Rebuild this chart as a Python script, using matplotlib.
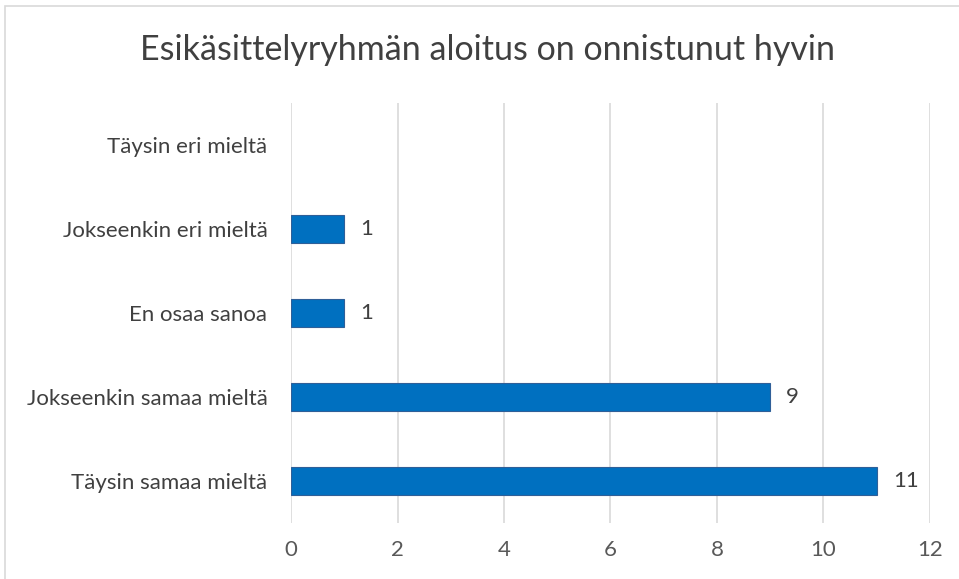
import matplotlib
matplotlib.use('Agg')
import matplotlib.pyplot as plt
from matplotlib.patches import Rectangle

categories = ['Täysin eri mieltä', 'Jokseenkin eri mieltä', 'En osaa sanoa',
              'Jokseenkin samaa mieltä', 'Täysin samaa mieltä']
values = [0, 1, 1, 9, 11]
xticks = [0, 2, 4, 6, 8, 10, 12]
title = 'Esikäsittelyryhmän aloitus on onnistunut hyvin'

plt.rcParams['font.family'] = ['Lato', 'DejaVu Sans']

W, H = 959, 579
fig = plt.figure(figsize=(W / 100, H / 100), dpi=100)
ax = fig.add_axes([291 / W, 1 - 523 / H, (930 - 291) / W, (523 - 103) / H])

# outer chart frame (right/bottom edges fall outside the crop)
fig.patches.append(Rectangle((5 / W, -0.05), 1.1, 1 - 6 / H + 0.05,
                             transform=fig.transFigure, fill=False,
                             edgecolor='#d9d9d9', linewidth=1.2))

pos = list(range(len(categories)))[::-1]
lw = [0.8 if v > 0 else 0 for v in values]
ax.barh(pos, values, height=0.34, color='#0070c0', edgecolor='#2f5f98',
        linewidth=lw, zorder=3)
for p, v in zip(pos, values):
    if v > 0:
        ax.text(v + 0.3, p, str(v), va='center', ha='left', fontsize=16,
                color='#404040')

ax.set_xlim(0, 12)
ax.set_ylim(-0.5, len(categories) - 0.5)
ax.set_xticks(xticks)
ax.set_xticklabels([str(t) for t in xticks], fontsize=16, color='#595959')
ax.set_yticks(pos)
ax.set_yticklabels(categories, fontsize=16, color='#404040')
ax.tick_params(axis='both', length=0)
ax.tick_params(axis='x', pad=12)
ax.tick_params(axis='y', pad=17)
ax.grid(axis='x', color='#d9d9d9', linewidth=1.2, zorder=0)
for s in ax.spines.values():
    s.set_visible(False)

fig.text(487 / W, 1 - 50 / H, title, ha='center', va='center', fontsize=24.5,
         color='#404040')

fig.savefig('out.png', dpi=100)
